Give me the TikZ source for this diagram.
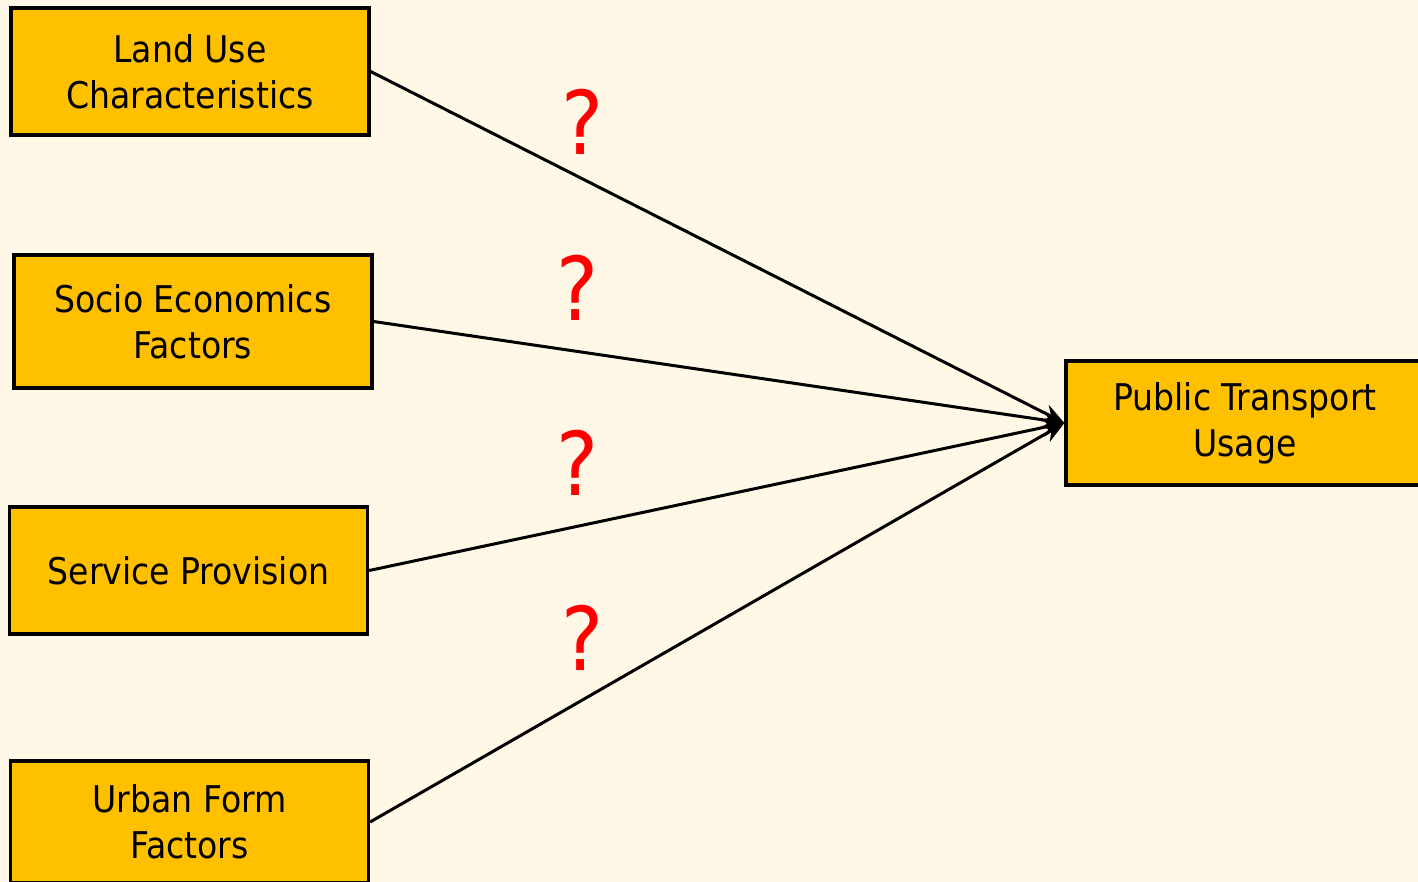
\documentclass[tikz,border=0pt]{standalone}
\usepackage{fontspec}
\setmainfont{DejaVu Sans Condensed}
\usetikzlibrary{arrows.meta}
\definecolor{bgcream}{HTML}{FFF8E6}
\definecolor{boxgold}{HTML}{FFC000}
\definecolor{qred}{HTML}{FF0000}
\tikzset{
  factor/.style={draw=black,line width=1.6pt,fill=boxgold,align=center,
    minimum width=179pt,inner sep=0pt,font=\fontsize{18.4}{23}\selectfont},
  link/.style={line width=1.5pt,-{Stealth[length=11pt,width=9pt]}},
  query/.style={text=qred,inner sep=0pt,font=\fontsize{44}{44}\selectfont}
}
\begin{document}
\begin{tikzpicture}[x=0.5pt,y=-0.5pt]
\useasboundingbox (0,0) rectangle (1418,882);
\fill[bgcream] (0,0) rectangle (1418,882);
\clip (0,0) rectangle (1418,882);
% factor boxes
\node[factor,minimum height=63.5pt] (land) at (190,71.5) {Land Use\\Characteristics};
\node[factor,minimum height=66.5pt] (socio) at (193,321.5) {Socio Economics\\Factors};
\node[factor,minimum height=63.5pt] (service) at (188.5,570.5) {Service Provision};
\node[factor,minimum height=61pt] (urban) at (189.5,822) {Urban Form\\Factors};
\node[factor,minimum height=62pt] (usage) at (1245,423) {Public Transport\\Usage};
% links
\foreach \src in {land,socio,service,urban}
  \draw[link] (\src.east) -- (usage.west);
% question marks
\node[query] (q1) at (583,122) {?};
\node[query] (q2) at (578,288) {?};
\node[query] (q3) at (578,463) {?};
\node[query] (q4) at (583,638) {?};
\end{tikzpicture}
\end{document}
